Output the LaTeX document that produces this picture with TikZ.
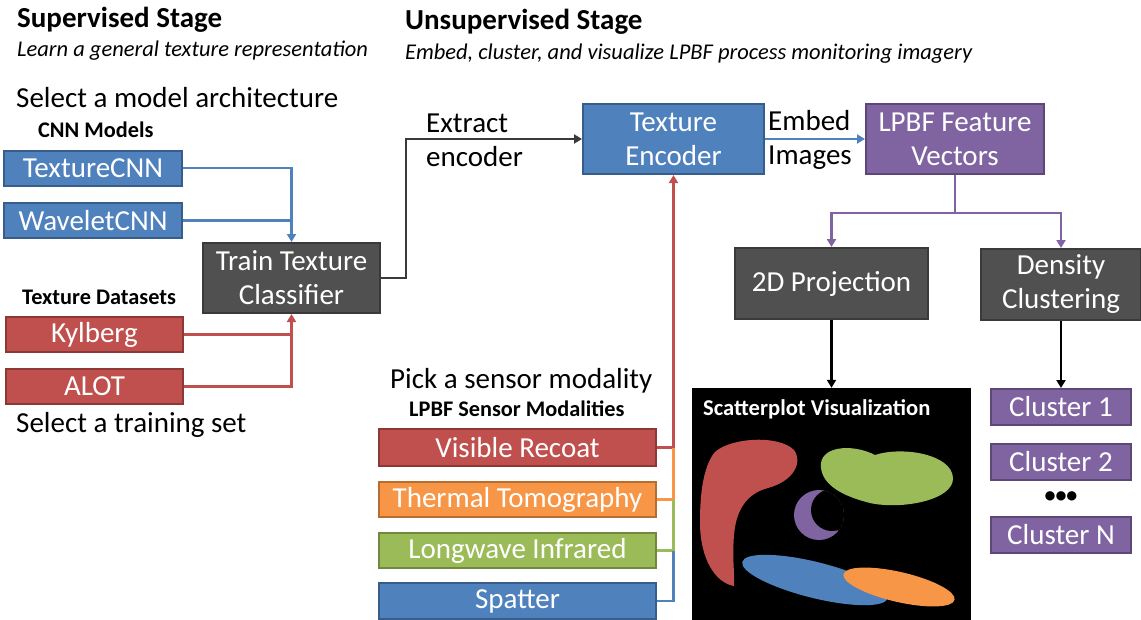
\documentclass[tikz,border=0pt]{standalone}
\usepackage{fontspec}
\setmainfont{Carlito}
\usepackage{tikz}
\usetikzlibrary{shapes,arrows.meta,backgrounds,positioning,fit}

\definecolor{OffBlue}{HTML}{4F81BD}	\definecolor{OffBlueD}{HTML}{385D8A}
\definecolor{OffRed}{HTML}{C0504D}	\definecolor{OffRedD}{HTML}{8C3836}
\definecolor{OffOrange}{HTML}{F79646}	\definecolor{OffOrangeD}{HTML}{B66D31}
\definecolor{OffGreen}{HTML}{9BBB59}	\definecolor{OffGreenD}{HTML}{71893F}
\definecolor{OffPurple}{HTML}{8064A2}	\definecolor{OffPurpleD}{HTML}{5C4776}
\definecolor{OffGray}{HTML}{505050}	\definecolor{OffGrayD}{HTML}{3A3A3A}

\begin{document}
\begin{tikzpicture}[x=1pt, y=-1pt]
		\tikzstyle{Box}		= [rectangle, line width=2pt, text=white, align=center, inner sep=0pt, font=\fontsize{29}{34}\selectfont]
		\tikzstyle{BlueBox}	= [Box, fill=OffBlue, draw=OffBlueD]
		\tikzstyle{RedBox}	= [Box, fill=OffRed, draw=OffRedD]
		\tikzstyle{OrangeBox}	= [Box, fill=OffOrange, draw=OffOrangeD]
		\tikzstyle{GreenBox}	= [Box, fill=OffGreen, draw=OffGreenD]
		\tikzstyle{PurpleBox}	= [Box, fill=OffPurple, draw=OffPurpleD]
		\tikzstyle{GrayBox}	= [Box, fill=OffGray, draw=OffGrayD]
		\tikzstyle{Label}	= [anchor=west, inner sep=0pt, align=left, font=\fontsize{29}{34}\selectfont]
		\tikzstyle{Head}	= [Label, font=\fontsize{29}{34}\selectfont\bfseries]
		\tikzstyle{Sub}		= [Label, font=\fontsize{22.5}{26}\selectfont\itshape]
		\tikzstyle{Group}	= [Label, font=\fontsize{22.3}{26}\selectfont\bfseries]
		\tikzstyle{Link}	= [line width=2.8pt, -{Triangle[length=8pt, width=9pt]}]
		\tikzstyle{Joint}	= [line width=2.8pt]

		\useasboundingbox (0,0) rectangle (1141,619);

		% supervised stage
		\node (sup) at (17, 20) [Head] {Supervised Stage};
		\node (supsub) at (17, 51) [Sub] {Learn a general texture representation};
		\node (selmodel) at (16, 98) [Label] {Select a model architecture};
		\node (cnnhead) at (38, 130) [Group] {CNN Models};
		\node (tcnn) at (93, 168) [BlueBox, minimum width=178, minimum height=35] {TextureCNN};
		\node (wcnn) at (93, 220.5) [BlueBox, minimum width=178, minimum height=35] {WaveletCNN};
		\node (dshead) at (22, 297) [Group] {Texture Datasets};
		\node (kyl) at (94.5, 334.5) [RedBox, minimum width=177, minimum height=35] {Kylberg};
		\node (alot) at (94.5, 386.5) [RedBox, minimum width=177, minimum height=35] {ALOT};
		\node (seltrain) at (16, 425) [Label] {Select a training set};
		\node (train) at (291.5, 278) [GrayBox, minimum width=177, minimum height=70] {Train Texture\\Classifier};

		% unsupervised stage
		\node (unsup) at (405, 22) [Head] {Unsupervised Stage};
		\node (unsupsub) at (405, 54) [Sub] {Embed, cluster, and visualize LPBF process monitoring imagery};
		\node (enc) at (673.5, 139) [BlueBox, minimum width=181, minimum height=70] {Texture\\Encoder};
		\node (extract) at (426, 140) [Label] {Extract\\encoder};
		\node (embed) at (768, 140) [Label] {Embed\\Images};
		\node (lpbf) at (955, 139) [PurpleBox, minimum width=178, minimum height=70] {LPBF Feature\\Vectors};
		\node (proj) at (831.5, 283.5) [GrayBox, minimum width=193, minimum height=71] {2D Projection};
		\node (dens) at (1061, 284.5) [GrayBox, minimum width=160, minimum height=71] {Density\\Clustering};

		% sensor modalities
		\node (pick) at (390, 381) [Label] {Pick a sensor modality};
		\node (senshead) at (409, 409) [Group] {LPBF Sensor Modalities};
		\node (vis) at (517.5, 447.5) [RedBox, minimum width=277, minimum height=37] {Visible Recoat};
		\node (therm) at (517.5, 499.5) [OrangeBox, minimum width=277, minimum height=35] {Thermal Tomography};
		\node (lwir) at (517.5, 550.5) [GreenBox, minimum width=277, minimum height=35] {Longwave Infrared};
		\node (spat) at (517.5, 601) [BlueBox, minimum width=277, minimum height=36] {Spatter};

		% clusters
		\node (cl1) at (1061, 407) [PurpleBox, minimum width=140, minimum height=36] {Cluster 1};
		\node (cl2) at (1061, 462) [PurpleBox, minimum width=140, minimum height=36] {Cluster 2};
		\node (dots) at (1061, 497) [font=\fontsize{22}{26}\selectfont\bfseries, inner sep=0pt] {\textbullet\textbullet\textbullet};
		\node (clN) at (1061, 535) [PurpleBox, minimum width=140, minimum height=36] {Cluster N};

		% scatterplot
		\node (scat) at (831.5, 504) [rectangle, fill=black, minimum width=279, minimum height=232, inner sep=0pt] {};
		\node (scattitle) at (703, 409) [Group, font=\fontsize{22.6}{26}\selectfont\bfseries, text=white] {Scatterplot Visualization};
		\fill[OffRed] (714,453) .. controls (728,438) and (778,434) .. (794,450) .. controls (803,462) and (794,481) .. (768,488) .. controls (745,494) and (736,512) .. (734,535) .. controls (732,560) and (735,575) .. (734,586) .. controls (716,583) and (700,560) .. (700,522) .. controls (700,490) and (704,467) .. (714,453) -- cycle;
		\fill[OffGreen] (821,468) .. controls (818,446) and (852,443) .. (875,455) .. controls (902,446) and (952,454) .. (953,478) .. controls (954,500) and (902,510) .. (870,503) .. controls (842,496) and (823,485) .. (821,468) -- cycle;
		\begin{scope}
			\clip (819,515) circle (25);
			\fill[OffPurple] (819,515) circle (25);
			\fill[black] (832,510) circle (21);
		\end{scope}
		\fill[OffBlue, rotate around={-14:(815,580)}] (815,580) ellipse [x radius=75, y radius=18];
		\fill[OffOrange, rotate around={-13:(899,587)}] (899,587) ellipse [x radius=57, y radius=15];

		% connectors
		\draw[Link, OffBlue] (tcnn.east) -| (train.north);
		\draw[Joint, OffBlue] (wcnn.east) -- (wcnn.east -| train.north);
		\draw[Link, OffRed] (kyl.east) -| (train.south);
		\draw[Joint, OffRed] (alot.east) -| (kyl.east -| train.south);
		\draw[Link, OffGrayD] (train.east) -- ++(25,0) |- (enc.west);
		\draw[Link, OffBlue] (enc.east) -- (lpbf.west);
		\draw[Link, OffPurple] (lpbf.south) -- ++(0,38) -| (proj.north);
		\draw[Link, OffPurple] (lpbf.south) -- ++(0,38) -| (dens.north);
		\draw[Link, black] (proj.south) -- (scat.north);
		\draw[Link, black] (dens.south) -- (cl1.north);
		\draw[Link, OffRed] (vis.east) -| (enc.south);
		\draw[Joint, OffOrange] (therm.east) -| (vis.east -| enc.south);
		\draw[Joint, OffGreen] (lwir.east) -| (therm.east -| enc.south);
		\draw[Joint, OffBlue] (spat.east) -| (lwir.east -| enc.south);
	\end{tikzpicture}
\end{document}
